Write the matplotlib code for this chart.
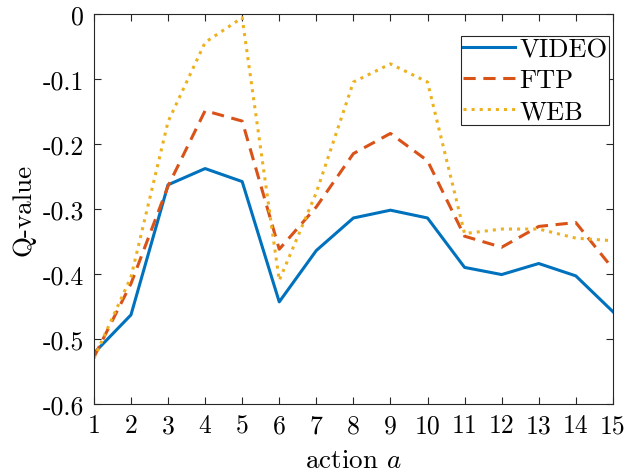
import numpy as np
import matplotlib.pyplot as plt

actions = np.arange(1, 16)
video = [-0.522, -0.463, -0.263, -0.238, -0.258, -0.443, -0.364, -0.314,
         -0.302, -0.314, -0.390, -0.401, -0.384, -0.403, -0.458]
ftp = [-0.528, -0.415, -0.265, -0.149, -0.165, -0.362, -0.297, -0.215,
       -0.184, -0.226, -0.342, -0.359, -0.327, -0.321, -0.392]
web = [-0.530, -0.405, -0.166, -0.044, -0.006, -0.410, -0.275, -0.105,
       -0.077, -0.105, -0.338, -0.331, -0.331, -0.345, -0.349]
yticks = [-0.6, -0.5, -0.4, -0.3, -0.2, -0.1, 0]
ytick_labels = ['-0.6', '-0.5', '-0.4', '-0.3', '-0.2', '-0.1', '0']

plt.rcParams['font.family'] = 'cmr10'
plt.rcParams['mathtext.fontset'] = 'cm'
plt.rcParams['axes.unicode_minus'] = False

fig = plt.figure(figsize=(6.26, 4.77), dpi=100)
ax = fig.add_axes([0.150, 0.151, 0.829, 0.818])

ax.plot(actions, video, '-', color='#0072BD', lw=2.2, label='VIDEO')
ax.plot(actions, ftp, '--', color='#D95319', lw=2.2, dashes=(4, 2.5), label='FTP')
ax.plot(actions, web, ':', color='#EDB120', lw=2.2, label='WEB')

ax.set_xlim(1, 15)
ax.set_ylim(-0.6, 0)
ax.set_xticks(actions)
ax.set_xticklabels([str(a) for a in actions])
ax.set_yticks(yticks)
ax.set_yticklabels(ytick_labels)
ax.tick_params(direction='in', top=True, right=True, length=5, width=0.8,
               labelsize=18.5, colors='#262626', labelcolor='black', pad=7)
for sp in ax.spines.values():
    sp.set_color('#262626')
    sp.set_linewidth(0.8)

ax.set_xlabel('action $a$', fontsize=19.5, labelpad=8)
ax.set_ylabel('Q-value', fontsize=19.5, labelpad=5)

leg = ax.legend(loc='upper right', fontsize=19, fancybox=False, framealpha=1,
                edgecolor='#262626', handlelength=2.0, borderpad=0.05,
                labelspacing=0.27, handletextpad=0.15, borderaxespad=0,
                bbox_to_anchor=(0.992, 0.942))
leg.get_frame().set_linewidth(0.8)

fig.savefig('out.png', dpi=100)
